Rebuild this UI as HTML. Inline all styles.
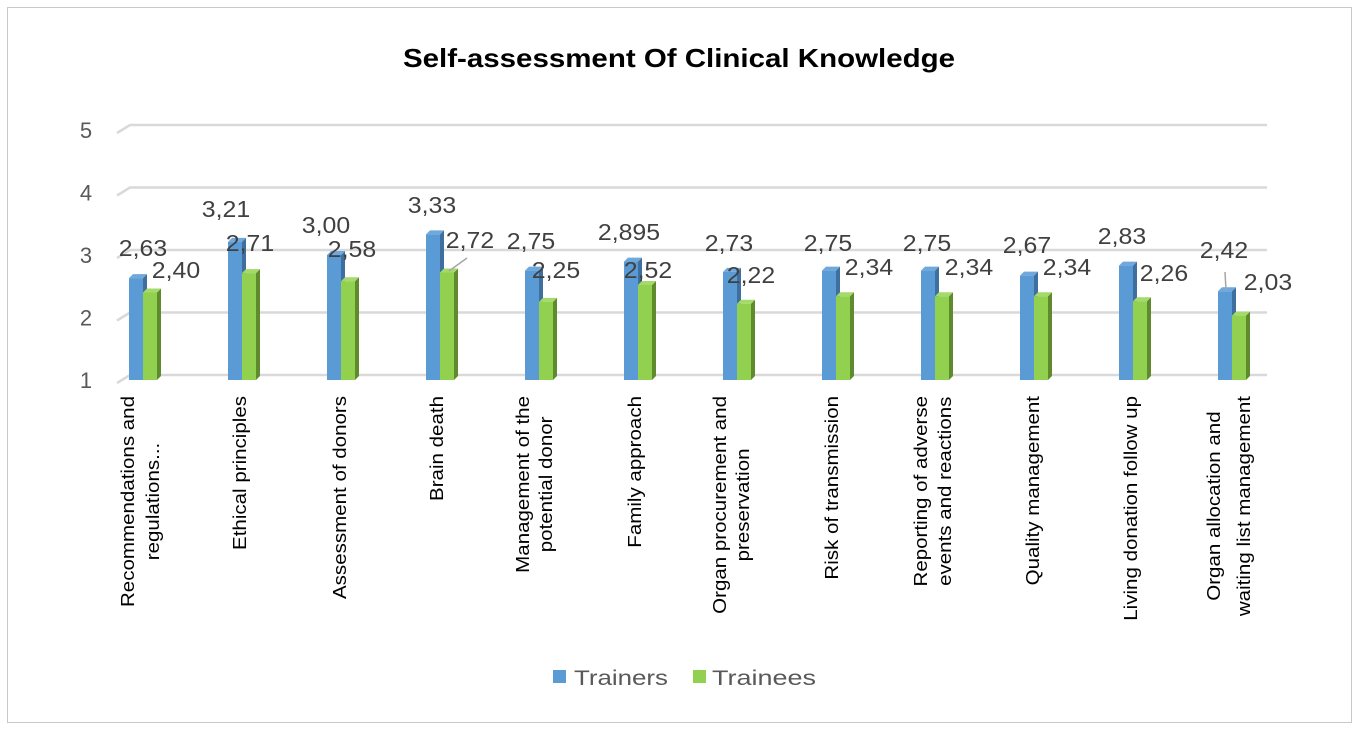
<!DOCTYPE html>
<html><head><meta charset="utf-8"><style>
body{margin:0;background:#fff}
svg{display:block;font-family:"Liberation Sans",sans-serif}
</style></head><body>
<svg id="s" width="1359" height="730" viewBox="0 0 1359 730">
<rect x="7.5" y="7.5" width="1344" height="715" fill="#fff" stroke="#c8c8c8"/>
<text x="403" y="67" font-weight="bold" font-size="26" fill="#000" textLength="552" lengthAdjust="spacingAndGlyphs">Self-assessment Of Clinical Knowledge</text>
<g id="grid" stroke="#d9d9d9" stroke-width="2.5" fill="none"></g>
<g id="ylab" font-size="22" fill="#595959"></g>
<g id="bars"></g>
<g id="vals" font-size="23" fill="#404040"></g>
<g id="cats" font-size="18" fill="#000"></g>
<rect x="553" y="670" width="13" height="13" fill="#5b9bd5"/>
<text x="574" y="685" font-size="21" fill="#595959" textLength="94" lengthAdjust="spacingAndGlyphs">Trainers</text>
<rect x="693" y="670" width="13" height="13" fill="#92d050"/>
<text x="712" y="685" font-size="21" fill="#595959" textLength="104" lengthAdjust="spacingAndGlyphs">Trainees</text>
</svg>
<script>
const NS="http://www.w3.org/2000/svg";
function el(p,t,a,txt){const e=document.createElementNS(NS,t);for(const k in a)e.setAttribute(k,a[k]);if(txt!=null)e.textContent=txt;document.getElementById(p).appendChild(e);return e;}
for(let v=1;v<=5;v++){const yb=375-(v-1)*62.5, yf=yb+8;
 el('grid','path',{d:`M117 ${yf} L130 ${yb} L1267 ${yb}`});
 el('ylab','text',{x:86,y:yf+5,"text-anchor":"middle"},String(v));}
const tr=[2.63,3.21,3.00,3.33,2.75,2.895,2.73,2.75,2.75,2.67,2.83,2.42];
const te=[2.40,2.71,2.58,2.72,2.25,2.52,2.22,2.34,2.34,2.34,2.26,2.03];
const Y=v=>380-(v-1)*62.5;
for(let i=0;i<12;i++){const x=129+99*i;
 [[tr[i],x,'#5b9bd5','#3e6f9e','#6ea8dc'],[te[i],x+14,'#92d050','#5f8a2e','#a4da6a']].forEach(([v,bx,c,d,t])=>{
  const y=Y(v);
  el('bars','polygon',{points:`${bx+14},${y} ${bx+18},${y-4} ${bx+18},376 ${bx+14},380`,fill:d});
  el('bars','polygon',{points:`${bx},${y} ${bx+4},${y-4} ${bx+18},${y-4} ${bx+14},${y}`,fill:t});
  el('bars','rect',{x:bx,y:y,width:14,height:380-y,fill:c});
 });}
const vl=[["2,63",143,256],["2,40",176,278],["3,21",226,217],["2,71",250,251],["3,00",326,233],["2,58",352,257],["3,33",432,213],["2,72",470,248],["2,75",531,249],["2,25",556,278],["2,895",629,240],["2,52",648,278],["2,73",729,251],["2,22",751,283],["2,75",828,251],["2,34",869,275],["2,75",927,251],["2,34",969,275],["2,67",1027,253],["2,34",1067,275],["2,83",1122,244],["2,26",1164,281],["2,42",1224,258],["2,03",1268,290]];
vl.forEach(([t,x,y])=>{const e=el('vals','text',{x,y,"text-anchor":"middle"},t);const L=e.getComputedTextLength();e.setAttribute('textLength',L*1.08);e.setAttribute('lengthAdjust','spacingAndGlyphs');});
el('vals','line',{x1:449,y1:271,x2:467,y2:258,stroke:"#a6a6a6","stroke-width":1.5});
el('vals','line',{x1:1226,y1:290,x2:1225,y2:272,stroke:"#a6a6a6","stroke-width":1.5});
const cats=[[["Recommendations and",128],["regulations...",153]],[["Ethical principles",240]],[["Assessment of donors",340]],[["Brain death",437]],[["Management of the",523],["potential donor",546]],[["Family approach",635]],[["Organ procurement and",720],["preservation",743]],[["Risk of transmission",832]],[["Reporting of adverse",921],["events and reactions",945]],[["Quality management",1033]],[["Living donation follow up",1131]],[["Organ allocation  and",1214],["waiting list management",1244]]];
cats.forEach(g=>{const els=g.map(([t,x])=>el('cats','text',{"text-anchor":"middle","xml:space":"preserve"},t));
 const ls=els.map(e=>e.getComputedTextLength()*1.14);
 els.forEach((e,i)=>{e.setAttribute('textLength',ls[i]);e.setAttribute('lengthAdjust','spacingAndGlyphs');});
 const L=Math.max(...ls);const cy=396+L/2;
 els.forEach((e,i)=>{const bx=g[i][1]+6;e.setAttribute('transform',`translate(${bx},${cy}) rotate(-90)`);});});
</script>
</body></html>
